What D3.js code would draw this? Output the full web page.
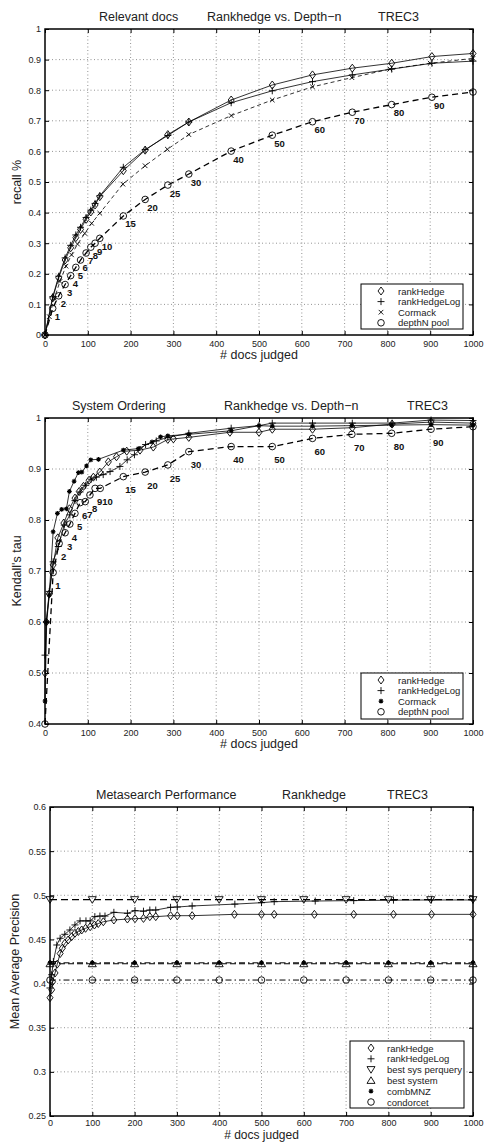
<!DOCTYPE html>
<html>
<head>
<meta charset="utf-8">
<script src="https://cdn.jsdelivr.net/npm/d3@7"></script>
<style>
  body { margin: 0; background: #fff; }
  svg { display: block; font-family: "Liberation Sans", Arial, Helvetica, sans-serif; }
</style>
</head>
<body>
<svg id="fig" width="484" height="1142"></svg>
<script>
// ---------- Panel 1: recall of relevant docs vs. # docs judged ----------
const docsDepth1 = [0, 18, 32, 47, 60, 72, 83, 96, 107, 117, 128, 183, 234, 287, 336, 435, 531, 625, 718, 810, 904, 1000];
const recallDepthN = [0, 0.087, 0.128, 0.165, 0.194, 0.221, 0.245, 0.268, 0.287, 0.300, 0.316, 0.389, 0.443, 0.490, 0.526, 0.601, 0.653, 0.697, 0.728, 0.753, 0.777, 0.794];
const recallRankHedge = [0, 0.121, 0.187, 0.245, 0.285, 0.318, 0.345, 0.378, 0.402, 0.425, 0.452, 0.537, 0.604, 0.655, 0.696, 0.768, 0.817, 0.850, 0.872, 0.888, 0.910, 0.920];
const recallRankHedgeLog = [0, 0.125, 0.192, 0.252, 0.293, 0.327, 0.352, 0.384, 0.408, 0.430, 0.455, 0.548, 0.606, 0.652, 0.696, 0.759, 0.798, 0.828, 0.850, 0.869, 0.888, 0.895];
const docsCormack1 = [0, 10, 22, 35, 49, 62, 76, 93, 109, 128, 182, 234, 286, 336, 435, 531, 625, 717, 806, 900, 1000];
const recallCormack = [0, 0.06, 0.12, 0.175, 0.225, 0.262, 0.297, 0.332, 0.365, 0.398, 0.493, 0.553, 0.607, 0.655, 0.717, 0.768, 0.811, 0.841, 0.869, 0.888, 0.904];

// pool depth printed next to each depth-n point
const depthLabels = ["", "1", "2", "3", "4", "5", "6", "7", "8", "9", "10", "15", "20", "25", "30", "40", "50", "60", "70", "80", "90", ""];

// ---------- Panel 2: Kendall's tau of the system ordering ----------
const docsDepth2 = [0, 19, 33, 47, 58, 70, 82, 94, 105, 117, 129, 183, 234, 287, 336, 435, 531, 625, 717, 810, 902, 1000];
const tauDepthN = [0.4, 0.697, 0.754, 0.775, 0.792, 0.813, 0.834, 0.836, 0.849, 0.862, 0.862, 0.885, 0.894, 0.908, 0.934, 0.944, 0.944, 0.960, 0.968, 0.970, 0.978, 0.983];
const docsHedge2 = [0, 3, 10, 19, 30, 44, 57, 70, 80, 90, 103, 113, 128, 148, 167, 191, 222, 253, 287, 300, 336, 432, 500, 531, 625, 718, 811, 902, 1000];
const tauRankHedge = [0.5, 0.6, 0.655, 0.712, 0.765, 0.794, 0.822, 0.843, 0.856, 0.866, 0.878, 0.884, 0.894, 0.914, 0.924, 0.935, 0.937, 0.943, 0.958, 0.959, 0.962, 0.972, 0.972, 0.978, 0.978, 0.981, 0.988, 0.992, 0.99];
const docsHedgeLog2 = [0, 3, 10, 19, 31, 45, 58, 70, 82, 95, 108, 120, 136, 152, 175, 192, 209, 235, 260, 287, 336, 435, 500, 531, 625, 718, 811, 902, 1000];
const tauRankHedgeLog = [0.535, 0.6, 0.66, 0.718, 0.748, 0.79, 0.81, 0.838, 0.855, 0.868, 0.88, 0.884, 0.889, 0.895, 0.905, 0.918, 0.928, 0.948, 0.955, 0.962, 0.97, 0.98, 0.985, 0.99, 0.99, 0.99, 0.99, 0.996, 0.995];
const docsCormack2 = [0, 4, 10, 19, 29, 39, 50, 57, 68, 78, 86, 97, 107, 125, 183, 218, 250, 270, 287, 336, 435, 500, 531, 625, 717, 810, 902, 1000];
const tauCormack = [0.445, 0.6, 0.653, 0.777, 0.813, 0.821, 0.822, 0.856, 0.876, 0.893, 0.894, 0.906, 0.918, 0.919, 0.937, 0.94, 0.953, 0.963, 0.965, 0.968, 0.975, 0.985, 0.984, 0.984, 0.985, 0.986, 0.987, 0.986];

// ---------- Panel 3: metasearch mean average precision ----------
const docsHedge3 = [0, 4, 6, 12, 17, 24, 29, 35, 43, 51, 59, 67, 75, 84, 95, 105, 114, 126, 151, 183, 201, 221, 236, 250, 285, 301, 336, 436, 500, 530, 625, 718, 812, 902, 1000];
const mapRankHedge = [0.384, 0.393, 0.402, 0.412, 0.422, 0.434, 0.440, 0.4456, 0.4494, 0.453, 0.457, 0.459, 0.4607, 0.4626, 0.4644, 0.4663, 0.468, 0.470, 0.472, 0.4731, 0.4735, 0.4738, 0.4758, 0.4758, 0.4769, 0.4769, 0.4769, 0.4784, 0.4784, 0.4784, 0.4784, 0.4784, 0.4784, 0.4784, 0.4784];
const docsHedgeLog3 = [0, 4, 8, 16, 24, 35, 47, 59, 71, 85, 95, 106, 118, 130, 151, 183, 201, 221, 236, 250, 285, 301, 336, 437, 500, 530, 627, 718, 812, 902, 1000];
const mapRankHedgeLog = [0.395, 0.41, 0.425, 0.4437, 0.4513, 0.4558, 0.4607, 0.4664, 0.471, 0.471, 0.471, 0.4758, 0.4765, 0.4765, 0.4807, 0.4796, 0.4826, 0.482, 0.4833, 0.4833, 0.4864, 0.4867, 0.4879, 0.490, 0.4916, 0.4928, 0.4935, 0.494, 0.4945, 0.4947, 0.4947];
const docsFixed = [0, 100, 200, 300, 400, 500, 600, 700, 800, 900, 1000];
const mapBestSysPerQuery = [0.495, 0.495, 0.495, 0.495, 0.495, 0.495, 0.495, 0.495, 0.495, 0.495, 0.495];
const mapBestSystem = [0.4225, 0.4225, 0.4225, 0.4225, 0.4225, 0.4225, 0.4225, 0.4225, 0.4225, 0.4225, 0.4225];
const mapCombMNZ = [0.4235, 0.4235, 0.4235, 0.4235, 0.4235, 0.4235, 0.4235, 0.4235, 0.4235, 0.4235, 0.4235];
const mapCondorcet = [0.404, 0.404, 0.404, 0.404, 0.404, 0.404, 0.404, 0.404, 0.404, 0.404, 0.404];

// ---------- shared axis settings ----------
const xTicks = [0, 100, 200, 300, 400, 500, 600, 700, 800, 900, 1000];
const yTicksRecall = [0, 0.1, 0.2, 0.3, 0.4, 0.5, 0.6, 0.7, 0.8, 0.9, 1];
const yTicksTau = [0.4, 0.5, 0.6, 0.7, 0.8, 0.9, 1];
const yTicksMap = [0.25, 0.3, 0.35, 0.4, 0.45, 0.5, 0.55, 0.6];

const svg = d3.select("#fig");

// stroked marker glyphs, drawn around (0,0)
function drawMarker(g, type) {
  const st = { fill: "none", stroke: "#000", "stroke-width": 0.9 };
  let el;
  switch (type) {
    case "diamond": el = g.append("path").attr("d", "M0,-4L3,0L0,4L-3,0Z"); break;
    case "plus": el = g.append("path").attr("d", "M-3.5,0H3.5M0,-3.5V3.5"); break;
    case "cross": el = g.append("path").attr("d", "M-2.3,-2.3L2.3,2.3M-2.3,2.3L2.3,-2.3"); break;
    case "star": el = g.append("path").attr("d", "M-2.4,0H2.4M0,-2.4V2.4M-1.7,-1.7L1.7,1.7M-1.7,1.7L1.7,-1.7"); st["stroke-width"] = 1.1; break;
    case "circle": el = g.append("circle").attr("r", 3.3); break;
    case "triDown": el = g.append("path").attr("d", "M-4,-3L4,-3L0,3.6Z"); break;
    case "triUp": el = g.append("path").attr("d", "M-4,3L4,3L0,-3.6Z"); break;
  }
  Object.entries(st).forEach(([k, v]) => el.attr(k, v));
}

function drawPanel(p) {
  const g = svg.append("g");
  const x = d3.scaleLinear().domain([0, 1000]).range([p.left, p.right]);
  const y = d3.scaleLinear().domain(p.yDomain).range([p.bottom, p.top]);

  // dotted grid
  const grid = g.append("g").attr("stroke", "#666").attr("stroke-width", 0.7).attr("stroke-dasharray", "1,2.5");
  grid.selectAll(".gx").data(xTicks.slice(1, -1)).join("line")
    .attr("x1", d => x(d)).attr("x2", d => x(d)).attr("y1", p.top).attr("y2", p.bottom);
  grid.selectAll(".gy").data(p.yTicks.slice(1, -1)).join("line")
    .attr("y1", d => y(d)).attr("y2", d => y(d)).attr("x1", p.left).attr("x2", p.right);

  // axes with inward ticks on all four sides
  const styleAxis = a => {
    a.select(".domain").remove();
    a.selectAll(".tick line").attr("stroke", "#000").attr("stroke-width", 1);
    a.selectAll("text").attr("font-size", 9).attr("fill", "#222");
  };
  g.append("g").attr("transform", `translate(0,${p.bottom})`)
    .call(d3.axisBottom(x).tickValues(xTicks).tickFormat(d3.format("d")).tickSizeInner(-4).tickSizeOuter(0).tickPadding(p.xTickPad))
    .call(styleAxis);
  g.append("g").attr("transform", `translate(0,${p.top})`)
    .call(d3.axisTop(x).tickValues(xTicks).tickFormat("").tickSizeInner(-4).tickSizeOuter(0))
    .call(styleAxis);
  g.append("g").attr("transform", `translate(${p.left},0)`)
    .call(d3.axisLeft(y).tickValues(p.yTicks).tickFormat(d => String(+d.toFixed(2))).tickSizeInner(-4).tickSizeOuter(0).tickPadding(4))
    .call(styleAxis);
  g.append("g").attr("transform", `translate(${p.right},0)`)
    .call(d3.axisRight(y).tickValues(p.yTicks).tickFormat("").tickSizeInner(-4).tickSizeOuter(0))
    .call(styleAxis);

  // series lines and markers
  p.series.forEach(s => {
    const pts = s.x.map((v, i) => [v, s.y[i]]);
    const line = d3.line().x(d => x(d[0])).y(d => y(d[1]));
    g.append("path").datum(pts).attr("d", line)
      .attr("fill", "none").attr("stroke", "#000")
      .attr("stroke-width", s.width || 0.8)
      .attr("stroke-dasharray", s.dash || null);
    const mk = g.append("g");
    pts.forEach(d => {
      const m = mk.append("g").attr("transform", `translate(${x(d[0])},${y(d[1])})`);
      drawMarker(m, s.marker);
    });
  });

  // depth labels beside the pool points
  if (p.labels) {
    const L = p.labels;
    g.append("g").selectAll("text").data(L.x.map((v, i) => ({ x: v, y: L.y[i], t: L.text[i] })).filter(d => d.t))
      .join("text")
      .attr("x", d => x(d.x) + 2)
      .attr("y", d => y(d.y - L.drop))
      .attr("dominant-baseline", "central")
      .attr("font-size", 9.5).attr("font-weight", "bold").attr("fill", "#111")
      .text(d => d.t);
  }

  // frame
  g.append("rect").attr("x", p.left).attr("y", p.top)
    .attr("width", p.right - p.left).attr("height", p.bottom - p.top)
    .attr("fill", "none").attr("stroke", "#000").attr("stroke-width", 1.5);

  // title pieces
  p.title.forEach(t => {
    g.append("text").attr("x", t.x).attr("y", p.top - 8)
      .attr("font-size", 12.5).attr("fill", "#222").text(t.text);
  });

  // axis labels
  g.append("text").attr("x", (p.left + p.right) / 2).attr("y", p.bottom + p.xlabelDy)
    .attr("text-anchor", "middle").attr("font-size", p.xlabelSize).attr("fill", "#222").text("# docs judged");
  g.append("text")
    .attr("transform", `translate(${p.ylabelX},${(p.top + p.bottom) / 2}) rotate(-90)`)
    .attr("text-anchor", "middle").attr("font-size", 12.5).attr("fill", "#222").text(p.ylabel);

  // legend
  const lg = p.legend;
  const lgG = g.append("g").attr("transform", `translate(${lg.x},${lg.y})`);
  lgG.append("rect").attr("width", lg.w).attr("height", lg.h)
    .attr("fill", "#fff").attr("stroke", "#000").attr("stroke-width", 1);
  lg.entries.forEach((e, i) => {
    const row = lgG.append("g").attr("transform", `translate(0,${7 + i * lg.step})`);
    const m = row.append("g").attr("transform", `translate(${lg.mx},0)`);
    drawMarker(m, e.marker);
    row.append("text").attr("x", lg.tx).attr("dominant-baseline", "central")
      .attr("font-size", 9.5).attr("fill", "#222").text(e.name);
  });
}

// Panel 1
drawPanel({
  top: 29, bottom: 335, left: 45, right: 473,
  yDomain: [0, 1], yTicks: yTicksRecall,
  ylabel: "recall %", ylabelX: 21, xlabelDy: 24, xlabelSize: 12.5, xTickPad: 6,
  title: [{ text: "Relevant docs", x: 99 }, { text: "Rankhedge vs. Depth\u2212n", x: 207 }, { text: "TREC3", x: 378 }],
  series: [
    { x: docsDepth1, y: recallRankHedge, marker: "diamond", width: 0.8 },
    { x: docsDepth1, y: recallRankHedgeLog, marker: "plus", width: 0.8 },
    { x: docsCormack1, y: recallCormack, marker: "cross", width: 0.8, dash: "4,3" },
    { x: docsDepth1, y: recallDepthN, marker: "circle", width: 1.3, dash: "6,4" }
  ],
  labels: { x: docsDepth1, y: recallDepthN, text: depthLabels, drop: 0.026 },
  legend: {
    x: 361, y: 284, w: 102, h: 45, step: 10.6, mx: 20, tx: 37,
    entries: [
      { name: "rankHedge", marker: "diamond" },
      { name: "rankHedgeLog", marker: "plus" },
      { name: "Cormack", marker: "cross" },
      { name: "depthN pool", marker: "circle" }
    ]
  }
});

// Panel 2
drawPanel({
  top: 418, bottom: 724, left: 45, right: 473,
  yDomain: [0.4, 1], yTicks: yTicksTau,
  ylabel: "Kendall's tau", ylabelX: 21, xlabelDy: 24, xlabelSize: 12.5, xTickPad: 6,
  title: [{ text: "System Ordering", x: 72 }, { text: "Rankhedge vs. Depth\u2212n", x: 224 }, { text: "TREC3", x: 407 }],
  series: [
    { x: docsHedge2, y: tauRankHedge, marker: "diamond", width: 0.8 },
    { x: docsHedgeLog2, y: tauRankHedgeLog, marker: "plus", width: 0.8 },
    { x: docsCormack2, y: tauCormack, marker: "star", width: 0.8 },
    { x: docsDepth2, y: tauDepthN, marker: "circle", width: 1.3, dash: "6,4" }
  ],
  labels: { x: docsDepth2, y: tauDepthN, text: depthLabels, drop: 0.026 },
  legend: {
    x: 361, y: 673, w: 102, h: 46, step: 10.6, mx: 20, tx: 37,
    entries: [
      { name: "rankHedge", marker: "diamond" },
      { name: "rankHedgeLog", marker: "plus" },
      { name: "Cormack", marker: "star" },
      { name: "depthN pool", marker: "circle" }
    ]
  }
});

// Panel 3
drawPanel({
  top: 807, bottom: 1116, left: 50, right: 473,
  yDomain: [0.25, 0.6], yTicks: yTicksMap,
  ylabel: "Mean Average Precision", ylabelX: 19, xlabelDy: 23, xlabelSize: 12, xTickPad: 3.5,
  title: [{ text: "Metasearch Performance", x: 96 }, { text: "Rankhedge", x: 282 }, { text: "TREC3", x: 387 }],
  series: [
    { x: docsHedge3, y: mapRankHedge, marker: "diamond", width: 0.8 },
    { x: docsHedgeLog3, y: mapRankHedgeLog, marker: "plus", width: 0.8 },
    { x: docsFixed, y: mapBestSysPerQuery, marker: "triDown", width: 1.3, dash: "7,4" },
    { x: docsFixed, y: mapBestSystem, marker: "triUp", width: 1.1, dash: "6,3" },
    { x: docsFixed, y: mapCombMNZ, marker: "star", width: 1.0, dash: "6,3,1.5,3" },
    { x: docsFixed, y: mapCondorcet, marker: "circle", width: 1.0, dash: "6,3,1.5,3" }
  ],
  legend: {
    x: 350, y: 1041, w: 114, h: 67, step: 10.8, mx: 21, tx: 37,
    entries: [
      { name: "rankHedge", marker: "diamond" },
      { name: "rankHedgeLog", marker: "plus" },
      { name: "best sys perquery", marker: "triDown" },
      { name: "best system", marker: "triUp" },
      { name: "combMNZ", marker: "star" },
      { name: "condorcet", marker: "circle" }
    ]
  }
});
</script>
</body>
</html>
